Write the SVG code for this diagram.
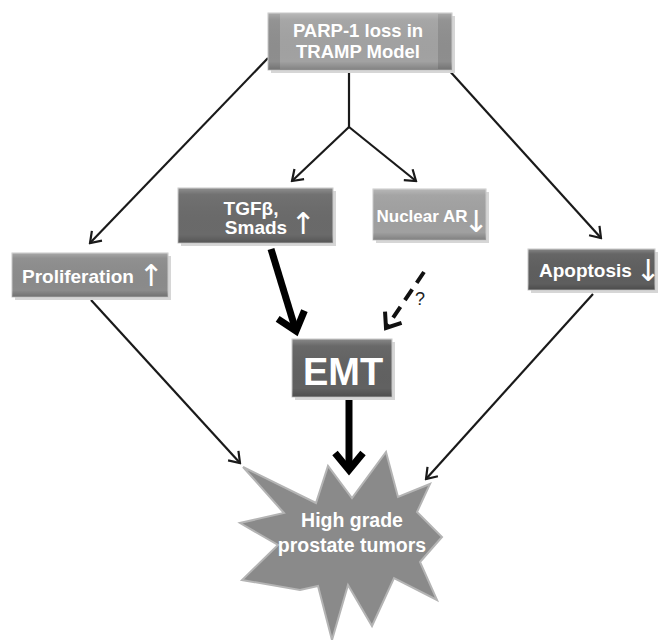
<svg xmlns="http://www.w3.org/2000/svg" width="665" height="640" viewBox="0 0 665 640">
<style>
.box{stroke:#c8c8c8;stroke-width:1}
.shade{fill:url(#bevel)}
.shadow{fill:#d6d6d6}
.t{font-family:"Liberation Sans",Arial,sans-serif;font-weight:bold;fill:#ffffff}
.arr{font-family:"DejaVu Sans",sans-serif;fill:#ffffff}
.thin{stroke:#1a1a1a;stroke-width:2.2;fill:none}
.thick{stroke:#000;stroke-width:7;fill:none}
.dash{stroke:#111;stroke-width:4;fill:none;stroke-dasharray:13 8}
</style>
<defs>
<linearGradient id="bevel" x1="0" y1="0" x2="0" y2="1">
<stop offset="0" stop-color="#fff" stop-opacity="0.25"/>
<stop offset="0.12" stop-color="#fff" stop-opacity="0.05"/>
<stop offset="0.85" stop-color="#000" stop-opacity="0"/>
<stop offset="1" stop-color="#000" stop-opacity="0.2"/>
</linearGradient>
<marker id="mThin" markerUnits="userSpaceOnUse" viewBox="-14 -10 16 20" markerWidth="16" markerHeight="20" refX="0" refY="0" orient="auto">
<path d="M-10,-7 L0,0 L-10,7" fill="none" stroke="#1a1a1a" stroke-width="2.2"/>
</marker>
<marker id="mThick" markerUnits="userSpaceOnUse" viewBox="-24 -20 30 40" markerWidth="30" markerHeight="40" refX="0" refY="0" orient="auto">
<path d="M-17,-14 L0,0 L-17,14" fill="none" stroke="#000" stroke-width="7"/>
</marker>
<marker id="mDash" markerUnits="userSpaceOnUse" viewBox="-20 -16 24 32" markerWidth="24" markerHeight="32" refX="0" refY="0" orient="auto">
<path d="M-13,-10 L0,0 L-13,10" fill="none" stroke="#111" stroke-width="4"/>
</marker>
</defs>
<rect width="665" height="640" fill="#ffffff"/>

<g id="connectors">
<line class="thin" x1="268" y1="58" x2="90" y2="243" marker-end="url(#mThin)"/>
<line class="thin" x1="447" y1="68" x2="601" y2="238" marker-end="url(#mThin)"/>
<polyline class="thin" points="349,70 349,127"/>
<line class="thin" x1="349" y1="127" x2="292" y2="181" marker-end="url(#mThin)"/>
<line class="thin" x1="349" y1="127" x2="416" y2="181" marker-end="url(#mThin)"/>
<line class="thin" x1="91" y1="300" x2="240" y2="463" marker-end="url(#mThin)"/>
<line class="thin" x1="593" y1="294" x2="426" y2="479" marker-end="url(#mThin)"/>
<line class="thick" x1="271" y1="249" x2="296" y2="331" marker-end="url(#mThick)"/>
<line class="dash" x1="424" y1="272" x2="386" y2="328" marker-end="url(#mDash)"/>
<line class="thick" x1="349" y1="399" x2="349" y2="470" marker-end="url(#mThick)"/>
<text x="415" y="305" font-family="Liberation Sans,Arial,sans-serif" font-size="18" fill="#222">?</text>
</g>

<g id="parp">
<rect class="shadow" x="271" y="16" width="184" height="57"/>
<rect class="box" x="268" y="13" width="184" height="57" fill="#8e8e8e"/>
<rect x="280" y="14" width="158" height="55" fill="#a2a2a2"/>
<rect class="shade" x="268" y="13" width="184" height="57"/>
<text class="t" font-size="18.5" text-anchor="middle" x="358" y="37">PARP-1 loss in</text>
<text class="t" font-size="18.5" text-anchor="middle" x="358" y="58">TRAMP Model</text>
</g>

<g id="tgfb">
<rect class="shadow" x="181" y="191" width="155" height="55"/>
<rect class="box" x="178" y="188" width="155" height="55" fill="#6a6a6a"/>
<rect class="shade" x="178" y="188" width="155" height="55"/>
<text class="t" font-size="19" text-anchor="middle" x="251" y="215">TGFβ,</text>
<text class="t" font-size="19" text-anchor="middle" x="256" y="234">Smads</text>
<text class="arr" font-size="30" text-anchor="middle" x="303" y="234">↑</text>
</g>

<g id="nuclear-ar">
<rect class="shadow" x="376" y="192" width="113" height="51"/>
<rect class="box" x="373" y="189" width="113" height="51" fill="#a0a0a0"/>
<rect class="shade" x="373" y="189" width="113" height="51"/>
<text class="t" font-size="17" text-anchor="middle" x="422" y="222">Nuclear AR</text>
<text class="arr" font-size="30" text-anchor="middle" x="476" y="232">↓</text>
</g>

<g id="proliferation">
<rect class="shadow" x="15" y="256" width="156" height="44"/>
<rect class="box" x="12" y="253" width="156" height="44" fill="#8b8b8b"/>
<rect class="shade" x="12" y="253" width="156" height="44"/>
<text class="t" font-size="19" x="22" y="283">Proliferation</text>
<text class="arr" font-size="30" text-anchor="middle" x="151" y="286">↑</text>
</g>

<g id="apoptosis">
<rect class="shadow" x="531" y="252" width="127" height="41"/>
<rect class="box" x="528" y="249" width="127" height="41" fill="#5e5e5e"/>
<rect class="shade" x="528" y="249" width="127" height="41"/>
<text class="t" font-size="19" x="539" y="277">Apoptosis</text>
<text class="arr" font-size="30" text-anchor="middle" x="648" y="281">↓</text>
</g>

<g id="emt">
<rect class="shadow" x="295" y="342" width="100" height="58"/>
<rect class="box" x="292" y="339" width="100" height="58" fill="#616161"/>
<rect class="shade" x="292" y="339" width="100" height="58"/>
<text class="t" font-size="38" text-anchor="middle" x="343" y="385">EMT</text>
</g>

<g id="tumors">
<polygon points="243,467 316,503 328,466 352,498 386,452 398,497 430,484 417,512 442,537 420,562 437,600 394,578 372,626 348,585 332,640 318,586 300,590 242,580 278,545 240,523 284,513" fill="#8a8a8a" stroke="#b4b4b4" stroke-width="2" stroke-linejoin="miter"/>
<text class="t" font-size="19.5" text-anchor="middle" x="352" y="527">High grade</text>
<text class="t" font-size="19.5" text-anchor="middle" x="352" y="552">prostate tumors</text>
</g>
</svg>
